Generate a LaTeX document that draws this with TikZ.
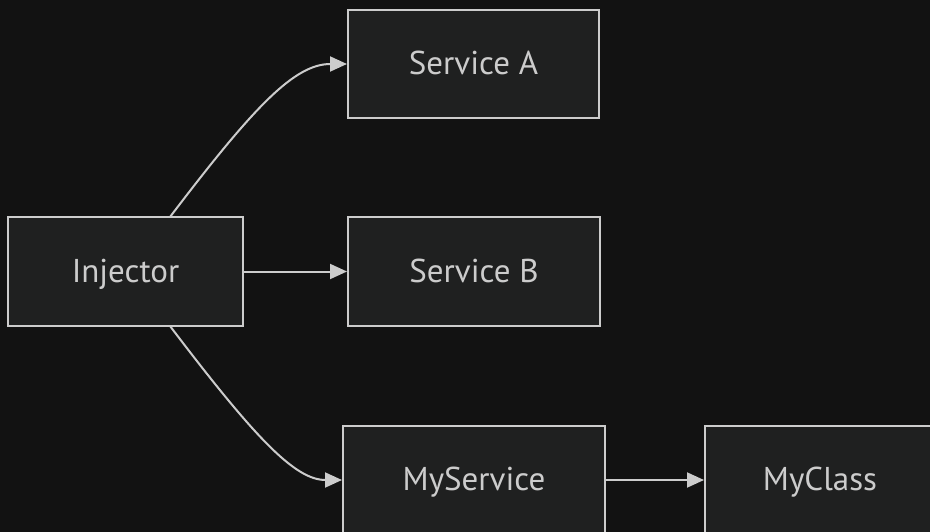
\documentclass[tikz,border=0pt]{standalone}
\usepackage{fontspec}
\setmainfont{PT Sans}
\usetikzlibrary{arrows.meta}
\definecolor{bg}{HTML}{121212}
\definecolor{nodefill}{HTML}{1F2020}
\definecolor{edge}{HTML}{CCCCCC}
\definecolor{txt}{HTML}{CCCCCC}
\begin{document}
\begin{tikzpicture}[x=1pt,y=-1pt,
  box/.style={draw=edge,fill=nodefill,line width=2pt,inner sep=0pt,text=txt,
    text height=21pt,text depth=0pt,
    font=\fontsize{33}{38}\selectfont},
  conn/.style={draw=edge,line width=2pt,-{Triangle[length=17pt,width=15pt]}}]
\fill[bg] (0,0) rectangle (930,532);
\useasboundingbox (0,0) rectangle (930,532);
\node[box,minimum width=251pt,minimum height=108pt] (sa) at (473.5,64) {Service A};
\node[box,minimum width=235pt,minimum height=109pt] (inj) at (125.5,271.5) {Injector};
\node[box,minimum width=252pt,minimum height=109pt] (sb) at (474,271.5) {Service B};
\node[box,minimum width=262pt,minimum height=108pt] (ms) at (474,480) {MyService};
\node[box,minimum width=230pt,minimum height=108pt] (mc) at (820,480) {MyClass};
\coordinate (injt) at (170,217);
\coordinate (injb) at (170,326);
\draw[conn] (injt) .. controls (255,105) and (295,64) .. (sa.west);
\draw[conn] (injb) .. controls (255,438) and (295,480) .. (ms.west);
\draw[conn] (inj.east) -- (sb.west);
\draw[conn] (ms.east) -- (mc.west);
\end{tikzpicture}
\end{document}
